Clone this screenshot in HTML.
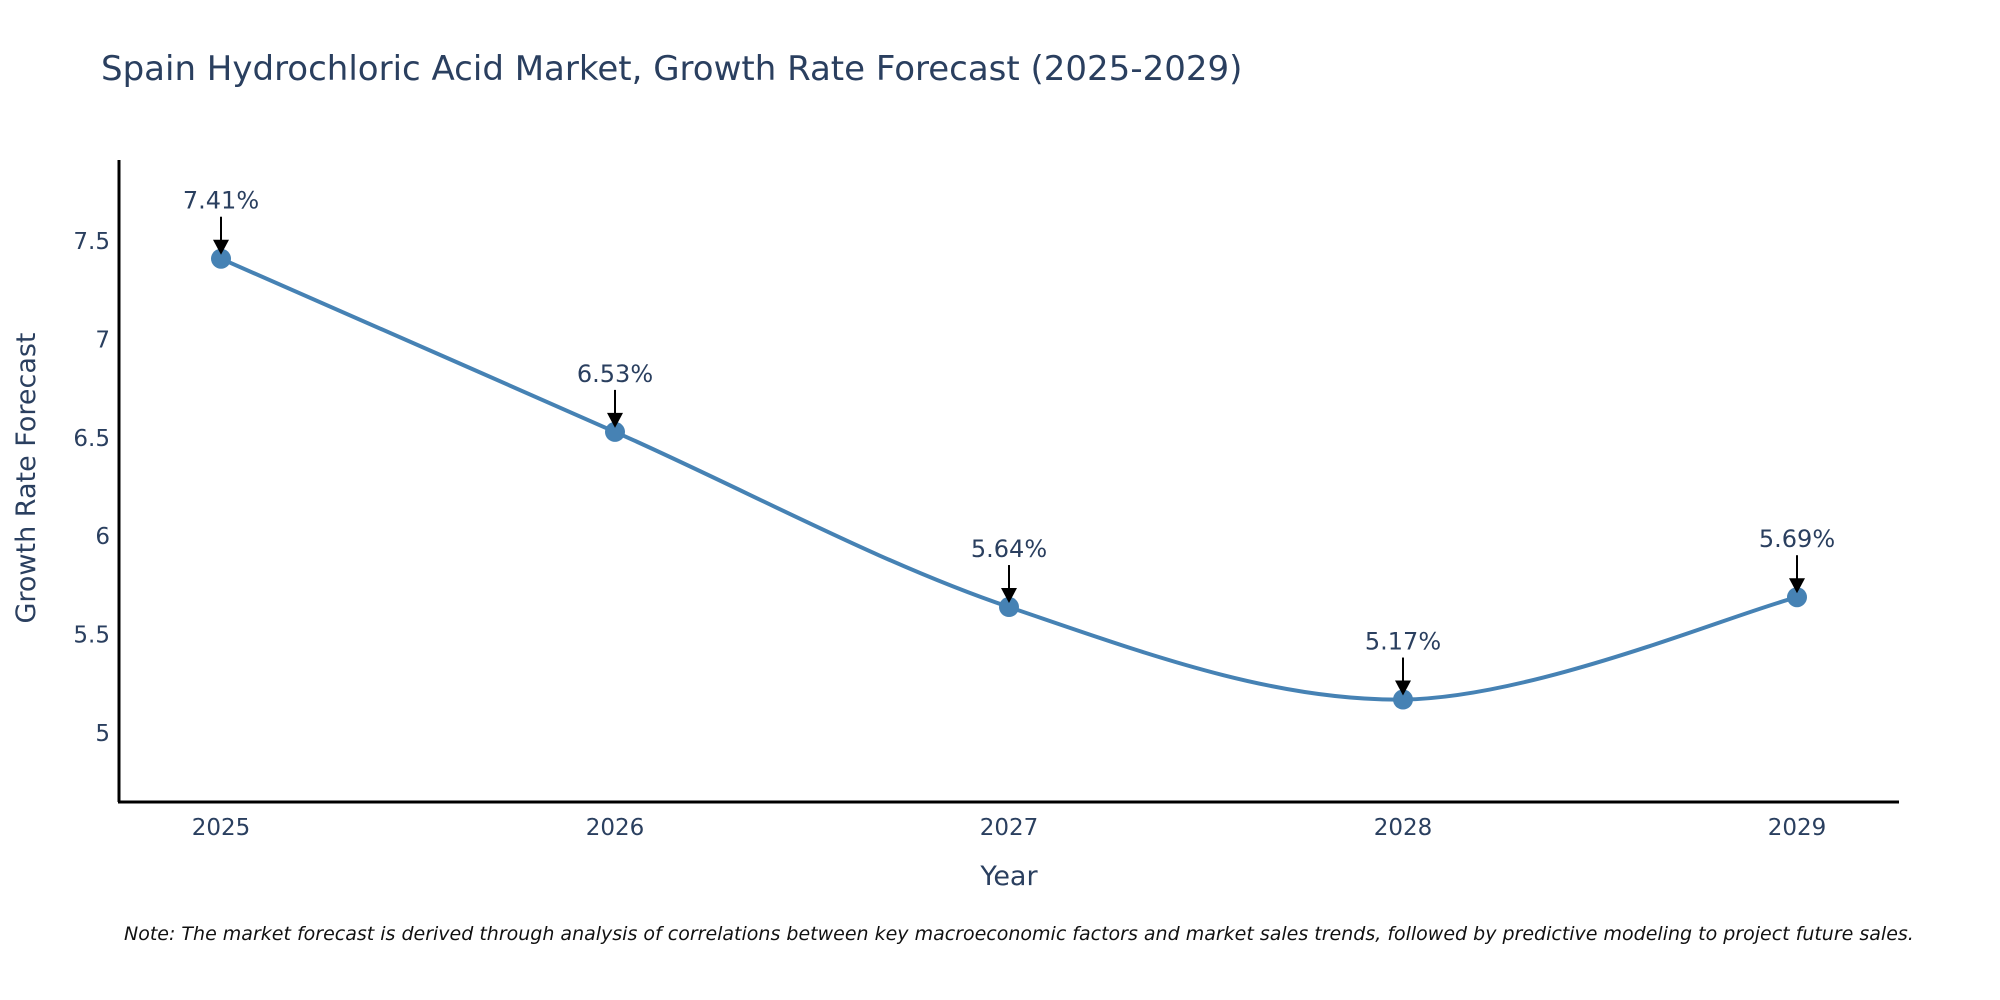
<!DOCTYPE html>
<html><head><meta charset="utf-8"><style>
body{margin:0;background:#fff;}
svg{display:block;font-family:"DejaVu Sans","Liberation Sans",sans-serif;}
</style></head><body>
<svg id="chart" width="2000" height="1000" viewBox="0 0 2000 1000">
<text x="101" y="80" font-size="34" fill="#2a3f5f">Spain Hydrochloric Acid Market, Growth Rate Forecast (2025-2029)</text>
<g id="yticks"></g>
<g id="xticks"></g>
<line x1="119" y1="160" x2="119" y2="802" stroke="#000" stroke-width="3"/>
<line x1="118" y1="802" x2="1899" y2="802" stroke="#000" stroke-width="3"/>
<path id="line" fill="none" stroke="#4682B4" stroke-width="4"/>
<g id="points"></g>
<g id="annots"></g>
<text x="1009" y="885" font-size="27" fill="#2a3f5f" text-anchor="middle">Year</text>
<text x="0" y="0" font-size="27" fill="#2a3f5f" text-anchor="middle" transform="translate(35,478) rotate(-90)">Growth Rate Forecast</text>
<text x="124" y="940" font-size="19" font-style="italic" fill="#111">Note: The market forecast is derived through analysis of correlations between key macroeconomic factors and market sales trends, followed by predictive modeling to project future sales.</text>
</svg>
<script>
const years = [2025, 2026, 2027, 2028, 2029];
const values = [7.41, 6.53, 5.64, 5.17, 5.69];
const yTicks = [5, 5.5, 6, 6.5, 7, 7.5];
const yTickLabels = ["5", "5.5", "6", "6.5", "7", "7.5"];
const NS = "http://www.w3.org/2000/svg";
function xs(i){return 221 + i*394;}
function ys(v){return 733 - (v-5)*196.8;}
function mk(tag, attrs, parent){const e=document.createElementNS(NS,tag);for(const k in attrs)e.setAttribute(k,attrs[k]);parent.appendChild(e);return e;}
const yt=document.getElementById('yticks');
yTicks.forEach((v,i)=>{const t=mk('text',{x:110,y:ys(v)+8,'font-size':23,fill:'#2a3f5f','text-anchor':'end'},yt);t.textContent=yTickLabels[i];

});
const xt=document.getElementById('xticks');
years.forEach((y,i)=>{const t=mk('text',{x:xs(i),y:835,'font-size':23,fill:'#2a3f5f','text-anchor':'middle'},xt);t.textContent=String(y);

});
const P=values.map((v,i)=>[xs(i),ys(v)]);
let d=`M${P[0][0]},${P[0][1]}`;const s=0.5/3*2;
for(let i=0;i<P.length-1;i++){const p0=P[i-1]||P[i],p1=P[i],p2=P[i+1],p3=P[i+2]||P[i+1];
d+=` C${p1[0]+(p2[0]-p0[0])*s/2},${p1[1]+(p2[1]-p0[1])*s/2} ${p2[0]-(p3[0]-p1[0])*s/2},${p2[1]-(p3[1]-p1[1])*s/2} ${p2[0]},${p2[1]}`;}
document.getElementById('line').setAttribute('d',d);
const pg=document.getElementById('points'),ag=document.getElementById('annots');
values.forEach((v,i)=>{const cx=xs(i),cy=ys(v);
const c=mk('circle',{cx:cx,cy:cy,r:10,fill:'#4682B4'},pg);


const l=mk('line',{x1:cx,y1:cy-42,x2:cx,y2:cy-16,stroke:'#000','stroke-width':2},ag);


const a=mk('polygon',{points:`${cx-8},${cy-19} ${cx+8},${cy-19} ${cx},${cy-4}`,fill:'#000'},ag);


const t=mk('text',{x:cx,y:cy-50,'font-size':24,fill:'#2a3f5f','text-anchor':'middle'},ag);t.textContent=v.toFixed(2)+'%';

});
</script>
</body></html>
